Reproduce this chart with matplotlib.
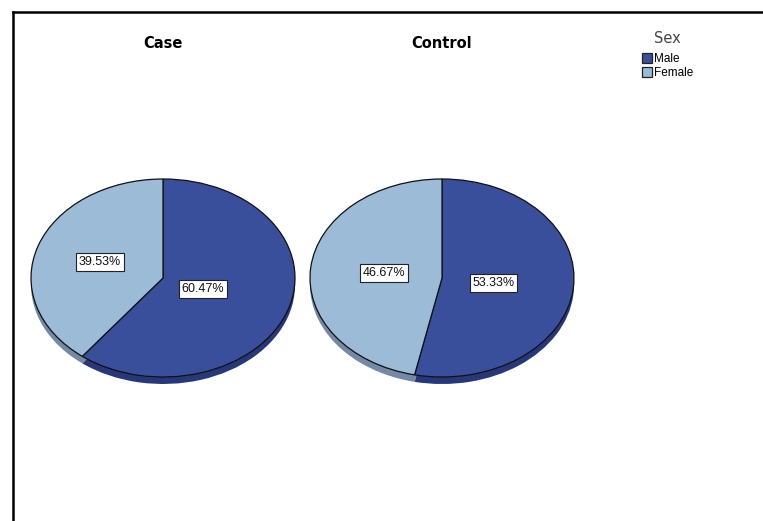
import matplotlib.pyplot as plt
from matplotlib.patches import Patch
from matplotlib.lines import Line2D

plt.rcParams['font.family'] = ['Liberation Sans', 'DejaVu Sans']

# ------------------------------------------------------
# data
# ------------------------------------------------------
groups = ["Case", "Control"]
sexes = ["Male", "Female"]
case_pct = [60.47, 39.53]
control_pct = [53.33, 46.67]

top_colors = ["#3a4f9b", "#9bbbd7"]
side_colors = ["#27387a", "#7489a3"]

W, H = 763, 521
fig = plt.figure(figsize=(W / 100, H / 100), dpi=100)

# pie geometry in pixels (ellipse: tilted pie)
RX, RY, DEPTH = 132, 99, 7
centers = [(163, 278), (442, 278)]
XL, XR, YB, YT = -1.2, 1.2, -1.3, 1.2

# label positions in data units (inside the slices)
label_pos = [
    [(0.30, -0.11), (-0.48, 0.16)],
    [(0.39, -0.05), (-0.44, 0.05)],
]


def add_pie(cx, cy, values, title, lpos):
    left = (cx + XL * RX) / W
    width = (XR - XL) * RX / W
    bottom = 1 - (cy - YB * RY) / H
    height = (YT - YB) * RY / H
    ax = fig.add_axes([left, bottom, width, height])

    # side (depth) drawn first, shifted down
    ax.pie(values, colors=side_colors, startangle=90, counterclock=False,
           center=(0, -DEPTH / RY),
           wedgeprops=dict(edgecolor="none"))
    ax.pie(values, colors=top_colors, startangle=90, counterclock=False,
           wedgeprops=dict(edgecolor="#111111", linewidth=0.9))
    ax.set_aspect("auto")
    ax.set_xlim(XL, XR)
    ax.set_ylim(YB, YT)
    ax.axis("off")

    for v, (x, y) in zip(values, lpos):
        ax.text(x, y, f"{v:.2f}%", ha="center", va="center", fontsize=9,
                color="#111111",
                bbox=dict(boxstyle="square,pad=0.22", fc="white",
                          ec="#222222", lw=0.8))

    fig.text(cx / W, 1 - 43 / H, title, ha="center", va="center",
             fontsize=10.5, fontweight="bold", family="DejaVu Sans")


add_pie(*centers[0], case_pct, groups[0], label_pos[0])
add_pie(*centers[1], control_pct, groups[1], label_pos[1])

# legend
handles = [Patch(facecolor=c, edgecolor="#222222", linewidth=0.9) for c in top_colors]
leg = fig.legend(handles, sexes, title="Sex", loc="upper left",
                 bbox_to_anchor=(634 / W, 1 - 23 / H), frameon=False,
                 fontsize=8.5, title_fontsize=10.5, handlelength=0.85,
                 handleheight=0.85, handletextpad=0.15, labelspacing=0.15,
                 borderpad=0.2)
leg.get_title().set_color("#444444")
leg.get_title().set_family("DejaVu Sans")
leg._legend_box.sep = 5

# outer frame (top and left only)
fig.add_artist(Line2D([13 / W, 1], [1 - 12 / H, 1 - 12 / H], color="black",
                      lw=1.8, transform=fig.transFigure))
fig.add_artist(Line2D([13 / W, 13 / W], [0, 1 - 12 / H], color="black",
                      lw=1.8, transform=fig.transFigure))

fig.savefig("out.png", dpi=100)
